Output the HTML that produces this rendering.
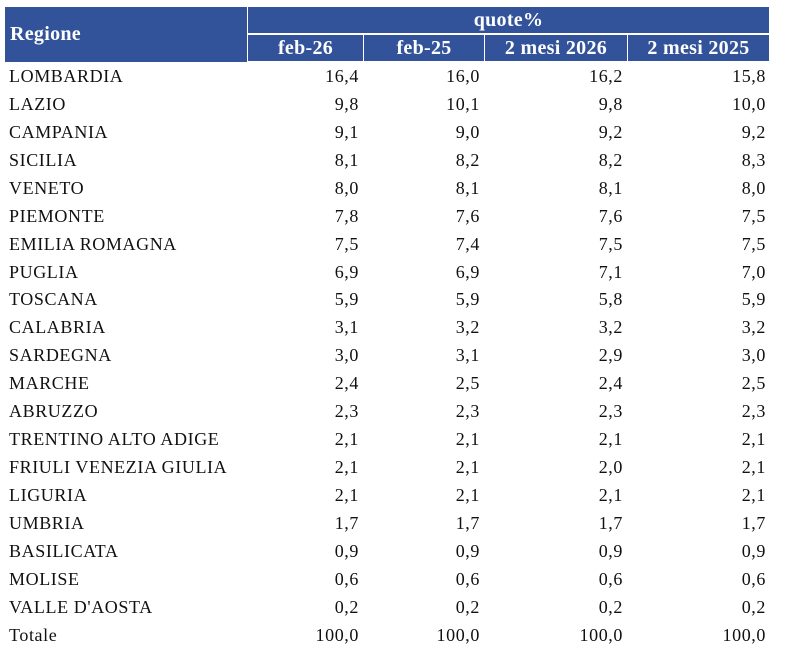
<!DOCTYPE html>
<html><head><meta charset="utf-8"><style>
body{margin:0;width:795px;height:664px;background:#fff;position:relative;font-family:"Liberation Serif",serif;overflow:hidden}
.h{position:absolute;background:#32539a;color:#fff;font-weight:bold;font-size:20px;letter-spacing:0.3px;box-sizing:border-box}
.r{position:absolute;left:0;width:795px;height:28px;font-size:18px;letter-spacing:0.6px;color:#111}
.r span{position:absolute;top:2px;line-height:22px}
.n{text-align:right}
</style></head><body>
<div class="h" style="left:5px;top:7px;width:242px;height:55px;padding:14px 0 0 5px;line-height:26px">Regione</div>
<div class="h" style="left:248px;top:7px;width:521px;height:26px;text-align:center;line-height:26px">quote%</div>
<div class="h" style="left:248px;top:35px;width:115px;height:26px;text-align:center;line-height:26px">feb-26</div>
<div class="h" style="left:364px;top:35px;width:120px;height:26px;text-align:center;line-height:26px">feb-25</div>
<div class="h" style="left:485px;top:35px;width:142px;height:26px;text-align:center;line-height:26px">2 mesi 2026</div>
<div class="h" style="left:628px;top:35px;width:141px;height:26px;text-align:center;line-height:26px">2 mesi 2025</div>
<div id="rows"></div>
<script>
var d=[["LOMBARDIA","16,4","16,0","16,2","15,8"],["LAZIO","9,8","10,1","9,8","10,0"],["CAMPANIA","9,1","9,0","9,2","9,2"],["SICILIA","8,1","8,2","8,2","8,3"],["VENETO","8,0","8,1","8,1","8,0"],["PIEMONTE","7,8","7,6","7,6","7,5"],["EMILIA ROMAGNA","7,5","7,4","7,5","7,5"],["PUGLIA","6,9","6,9","7,1","7,0"],["TOSCANA","5,9","5,9","5,8","5,9"],["CALABRIA","3,1","3,2","3,2","3,2"],["SARDEGNA","3,0","3,1","2,9","3,0"],["MARCHE","2,4","2,5","2,4","2,5"],["ABRUZZO","2,3","2,3","2,3","2,3"],["TRENTINO ALTO ADIGE","2,1","2,1","2,1","2,1"],["FRIULI VENEZIA GIULIA","2,1","2,1","2,0","2,1"],["LIGURIA","2,1","2,1","2,1","2,1"],["UMBRIA","1,7","1,7","1,7","1,7"],["BASILICATA","0,9","0,9","0,9","0,9"],["MOLISE","0,6","0,6","0,6","0,6"],["VALLE D'AOSTA","0,2","0,2","0,2","0,2"],["Totale","100,0","100,0","100,0","100,0"]];
var ends=[359,480,623,766],h="";
d.forEach(function(r,i){var t=63+i*27.93;h+='<div class="r" style="top:'+t+'px"><span style="left:9px">'+r[0]+'</span>';
for(var j=1;j<5;j++)h+='<span class="n" style="left:'+(ends[j-1]-100)+'px;width:100px">'+r[j]+'</span>';h+='</div>';});
document.getElementById("rows").innerHTML=h;
</script>
</body></html>
